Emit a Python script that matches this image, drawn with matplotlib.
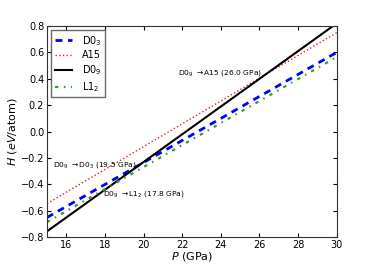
import matplotlib
matplotlib.use("Agg")
import matplotlib.pyplot as plt

P = [15, 30]
H_D03 = [-0.65, 0.60]
H_A15 = [-0.545, 0.75]
H_D09 = [-0.755, 0.82]
H_L12 = [-0.685, 0.565]

labels = [r"D0$_3$", "A15", r"D0$_9$", r"L1$_2$"]

fig = plt.figure(figsize=(3.74, 2.64), dpi=100)
ax = fig.add_axes([47/374, 1-237.3/264, 289.7/374, 211.3/264])

ax.plot(P, H_D03, '--', color='blue', lw=2, dashes=(2.5, 2), label=labels[0])
ax.plot(P, H_A15, ':', color='#d62728', lw=1, label=labels[1])
ax.plot(P, H_D09, '-', color='black', lw=1.5, label=labels[2])
ax.plot(P, H_L12, '-.', color='#2ca02c', lw=1.6, dashes=(1.5, 2.5, 0.7, 2.5), label=labels[3])

ax.set_xlim(15, 30)
ax.set_ylim(-0.8, 0.8)
ax.set_xticks([16, 18, 20, 22, 24, 26, 28, 30])
ax.set_yticks([-0.8, -0.6, -0.4, -0.2, 0.0, 0.2, 0.4, 0.6, 0.8])
ax.tick_params(labelsize=7, direction='in', length=3, pad=2, top=True, right=True)
for s in ax.spines.values():
    s.set_color('#333333')
ax.set_xlabel(r"$P$ (GPa)", fontsize=8, labelpad=0)
ax.set_ylabel(r"$H$ ($eV$/atom)", fontsize=8, labelpad=1)

ax.text(21.8, 0.444, r"D0$_9$ $\rightarrow$A15 ($26.0$ GPa)", fontsize=5.4, va='center')
ax.text(15.3, -0.255, r"D0$_9$ $\rightarrow$D0$_3$ ($19.5$ GPa)", fontsize=5.4, va='center')
ax.text(17.88, -0.474, r"D0$_9$ $\rightarrow$L1$_2$ ($17.8$ GPa)", fontsize=5.4, va='center')

leg = ax.legend(loc='upper left', fontsize=7, fancybox=False, handlelength=1.8,
                borderaxespad=0.45, labelspacing=0.3, borderpad=0.35, handletextpad=1.0)
leg.get_frame().set_edgecolor('#444444')

fig.savefig("out.png", dpi=100)
